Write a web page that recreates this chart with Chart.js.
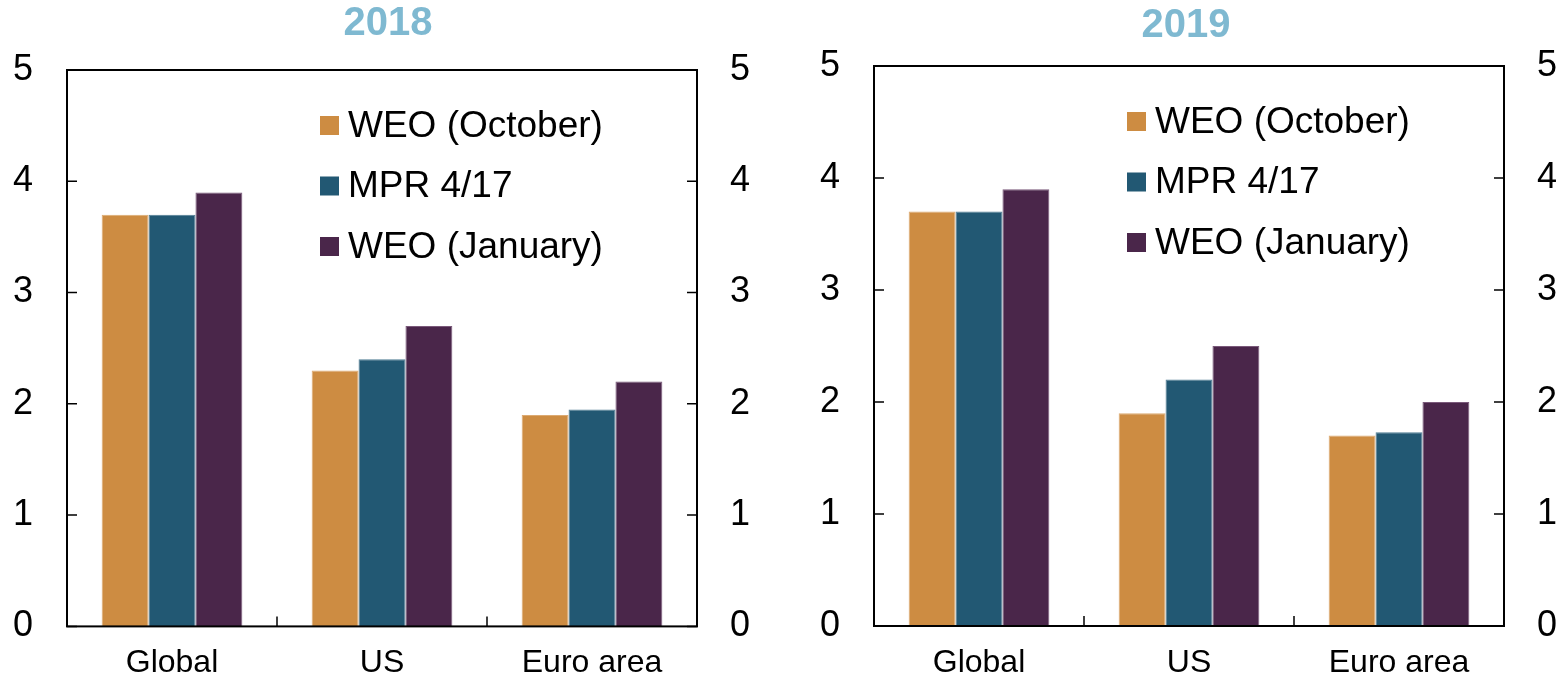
<!DOCTYPE html>
<html>
<head>
<meta charset="utf-8">
<script src="https://cdn.jsdelivr.net/npm/chart.js@4.4.1/dist/chart.umd.min.js"></script>
<style>
	body { margin: 0; background: #fff; }
	#wrap1 { position: absolute; left: 0; top: 0; }
	#wrap2 { position: absolute; left: 810px; top: 0; }
</style>
</head>
<body>
<div id="wrap1"><canvas id="chart2018" width="776" height="682"></canvas></div>
<div id="wrap2"><canvas id="chart2019" width="752" height="682"></canvas></div>
<script>
var categories = ['Global', 'US', 'Euro area'];
var seriesNames = ['WEO (October)', 'MPR 4/17', 'WEO (January)'];
var seriesColors = ['#cd8c42', '#225873', '#4a264a'];
var seriesEdges = ['#dcaa72', '#4f7c93', '#7a597a'];
var yTicks = [0, 1, 2, 3, 4, 5];

// 2018
var weoOct2018 = [3.7, 2.3, 1.9];
var mpr2018 = [3.7, 2.4, 1.95];
var weoJan2018 = [3.9, 2.7, 2.2];

// 2019
var weoOct2019 = [3.7, 1.9, 1.7];
var mpr2019 = [3.7, 2.2, 1.73];
var weoJan2019 = [3.9, 2.5, 2.0];

var fontFamily = '"Liberation Sans", Arial, sans-serif';

// box round the plot, ticks pointing inwards, legend inside the plot
var framePlugin = {
	id: 'frame',
	afterDraw: function(chart) {
		var ctx = chart.ctx;
		var a = chart.chartArea;
		var y = chart.scales.y;
		var x = chart.scales.x;
		ctx.save();
		ctx.strokeStyle = '#000';
		ctx.lineWidth = 2;
		ctx.strokeRect(a.left, a.top, a.right - a.left, a.bottom - a.top);
		ctx.lineWidth = 1.5;
		ctx.beginPath();
		for (var i = 0; i < yTicks.length; i++) {
			var py = y.getPixelForValue(yTicks[i]);
			ctx.moveTo(a.left, py);
			ctx.lineTo(a.left + 10, py);
			ctx.moveTo(a.right, py);
			ctx.lineTo(a.right - 10, py);
		}
		for (var j = 1; j < categories.length; j++) {
			var px = (x.getPixelForValue(j - 1) + x.getPixelForValue(j)) / 2;
			ctx.moveTo(px, a.bottom);
			ctx.lineTo(px, a.bottom - 10);
		}
		ctx.stroke();

		// legend
		var sets = chart.data.datasets;
		ctx.font = '37px ' + fontFamily;
		ctx.textBaseline = 'middle';
		ctx.textAlign = 'left';
		for (var k = 0; k < sets.length; k++) {
			var cy = a.top + 55.5 + k * 60.5;
			var lx = a.left + 253;
			ctx.fillStyle = sets[k].backgroundColor;
			ctx.fillRect(lx, cy - 9.5, 19, 19);
			ctx.fillStyle = '#000';
			ctx.fillText(sets[k].label, lx + 28, cy + 1);
		}
		ctx.restore();
	}
};

function makeChart(id, title, values, dims) {
	var datasets = [];
	for (var i = 0; i < seriesNames.length; i++) {
		datasets.push({
			label: seriesNames[i],
			data: values[i],
			backgroundColor: seriesColors[i],
			borderColor: seriesEdges[i],
			borderWidth: { top: 1, left: 1, right: 1, bottom: 0 },
			categoryPercentage: 0.67,
			barPercentage: 1.0
		});
	}

	var tickFont = { family: fontFamily, size: 36 };

	return new Chart(document.getElementById(id), {
		type: 'bar',
		data: { labels: categories, datasets: datasets },
		plugins: [framePlugin],
		options: {
			responsive: false,
			animation: false,
			layout: { padding: 0 },
			plugins: {
				legend: { display: false },
				tooltip: { enabled: false },
				title: {
					display: true,
					text: title,
					color: '#7fb9d1',
					font: { family: fontFamily, size: 40, weight: 'bold' },
					padding: dims.titlePad
				}
			},
			scales: {
				x: {
					grid: { display: false, drawTicks: false },
					border: { display: false },
					ticks: { color: '#000', font: { family: fontFamily, size: 32 }, padding: 18, maxRotation: 0 },
					afterFit: function(s) { s.height = dims.xHeight; }
				},
				y: {
					position: 'left',
					min: 0, max: 5,
					grid: { display: false, drawTicks: false },
					border: { display: false },
					ticks: { stepSize: 1, color: '#000', font: tickFont, padding: 34 },
					afterFit: function(s) { s.width = dims.leftW; }
				},
				y1: {
					position: 'right',
					min: 0, max: 5,
					grid: { display: false, drawTicks: false },
					border: { display: false },
					ticks: { stepSize: 1, color: '#000', font: tickFont, padding: 33 },
					afterFit: function(s) { s.width = dims.rightW; }
				}
			}
		}
	});
}

makeChart('chart2018', '2018', [weoOct2018, mpr2018, weoJan2018],
	{ leftW: 67, rightW: 79, xHeight: 50, titlePad: { top: 0, bottom: 22 } });
makeChart('chart2019', '2019', [weoOct2019, mpr2019, weoJan2019],
	{ leftW: 64, rightW: 58, xHeight: 56, titlePad: { top: 2, bottom: 16 } });
</script>
</body>
</html>
